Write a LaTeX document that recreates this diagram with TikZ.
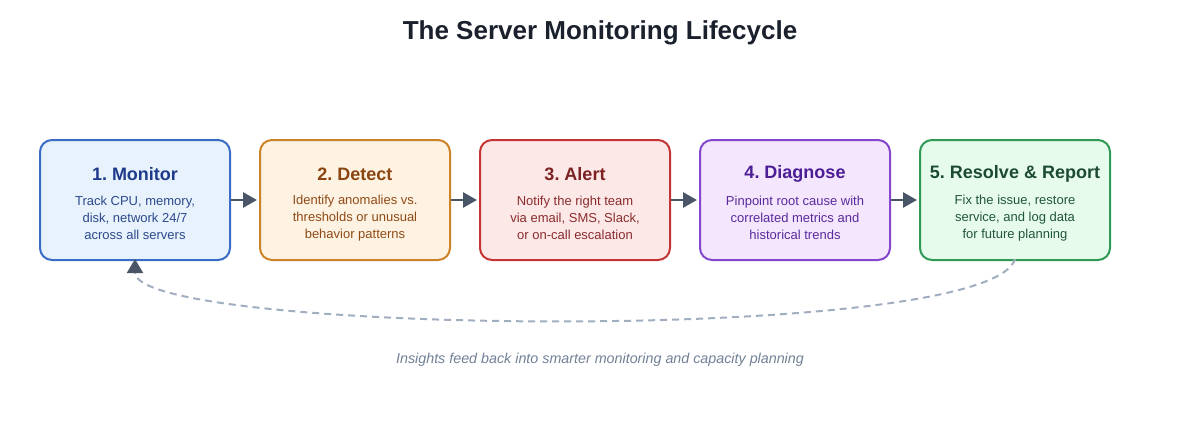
\documentclass[tikz,border=0pt]{standalone}
\usepackage{fontspec}
\setmainfont{Liberation Sans}
\usepackage{xcolor}
\usepackage{tikz}
\usetikzlibrary{arrows.meta,positioning}
\frenchspacing
\definecolor{titlec}{HTML}{1A202C}
\definecolor{arrc}{HTML}{4A5568}
\definecolor{loopc}{HTML}{A0AEC0}
\definecolor{capc}{HTML}{718096}
\definecolor{monfill}{HTML}{E8F2FD}
\definecolor{mondraw}{HTML}{3A6CC6}
\definecolor{montext}{HTML}{1E3A8A}
\definecolor{monbody}{HTML}{2C4A8C}
\definecolor{detfill}{HTML}{FEF3E2}
\definecolor{detdraw}{HTML}{CC8227}
\definecolor{dettext}{HTML}{8A4512}
\definecolor{detbody}{HTML}{8F4A16}
\definecolor{alefill}{HTML}{FDE8E8}
\definecolor{aledraw}{HTML}{C53434}
\definecolor{aletext}{HTML}{7B2222}
\definecolor{alebody}{HTML}{8A2C2C}
\definecolor{diafill}{HTML}{F3E6FD}
\definecolor{diadraw}{HTML}{8447CC}
\definecolor{diatext}{HTML}{4C1D95}
\definecolor{diabody}{HTML}{5B2A9C}
\definecolor{resfill}{HTML}{E6FBEB}
\definecolor{resdraw}{HTML}{2F9A55}
\definecolor{restext}{HTML}{1C4A32}
\definecolor{resbody}{HTML}{22553D}
\tikzset{
  stage/.style={rectangle,rounded corners=12pt,line width=2pt,minimum width=190pt,minimum height=120pt,inner sep=0pt},
  ttl/.style={font=\fontsize{18}{21}\selectfont\bfseries,inner sep=0pt},
  dsc/.style={font=\fontsize{13}{17}\selectfont,align=center,inner sep=0pt},
  ar/.style={-{Triangle[length=14pt,width=15pt]},line width=2.8pt,arrc}
}
\begin{document}
\begin{tikzpicture}[x=1pt,y=-1pt]
\useasboundingbox (0,0) rectangle (1200,440);
\node[font=\fontsize{26}{30}\selectfont\bfseries,text=titlec] (head) at (600,33) {The Server Monitoring Lifecycle};
% the five stages
\node[stage,draw=mondraw,fill=monfill] (b1) at (135,200) {};
\node[ttl,text=montext] (t1) at (135,174) {1. Monitor};
\node[dsc,text=monbody] (d1) at (135,218) {Track CPU, memory,\\disk, network 24/7\\across all servers};
\node[stage,draw=detdraw,fill=detfill] (b2) at (355,200) {};
\node[ttl,text=dettext] (t2) at (355,174) {2. Detect};
\node[dsc,text=detbody] (d2) at (355,218) {Identify anomalies vs.\\thresholds or unusual\\behavior patterns};
\node[stage,draw=aledraw,fill=alefill] (b3) at (575,200) {};
\node[ttl,text=aletext] (t3) at (575,174) {3. Alert};
\node[dsc,text=alebody] (d3) at (575,218) {Notify the right team\\via email, SMS, Slack,\\or on-call escalation};
\node[stage,draw=diadraw,fill=diafill] (b4) at (795,200) {};
\node[ttl,text=diatext] (t4) at (795,174) {4. Diagnose};
\node[dsc,text=diabody] (d4) at (795,218) {Pinpoint root cause with\\correlated metrics and\\historical trends};
\node[stage,draw=resdraw,fill=resfill] (b5) at (1015,200) {};
\node[ttl,text=restext] (t5) at (1015,174) {5. Resolve \& Report};
\node[dsc,text=resbody] (d5) at (1015,218) {Fix the issue, restore\\service, and log data\\for future planning};
\draw[ar] (b1.east) -- ([xshift=-2pt]b2.west);
\draw[ar] (b2.east) -- ([xshift=-2pt]b3.west);
\draw[ar] (b3.east) -- ([xshift=-2pt]b4.west);
\draw[ar] (b4.east) -- ([xshift=-2pt]b5.west);
% feedback loop
\coordinate (lp) at ([yshift=2pt]b5.south);
\draw[loopc,line width=2pt,dash pattern=on 7pt off 5pt,-{Triangle[length=14pt,width=16pt,color=arrc]}] (lp) .. controls (990,345) and (135,335) .. ([yshift=2pt]b1.south);
\node[font=\fontsize{14.3}{17}\selectfont\itshape,text=capc] (cap) at (600,360) {Insights feed back into smarter monitoring and capacity planning};
\end{tikzpicture}
\end{document}
